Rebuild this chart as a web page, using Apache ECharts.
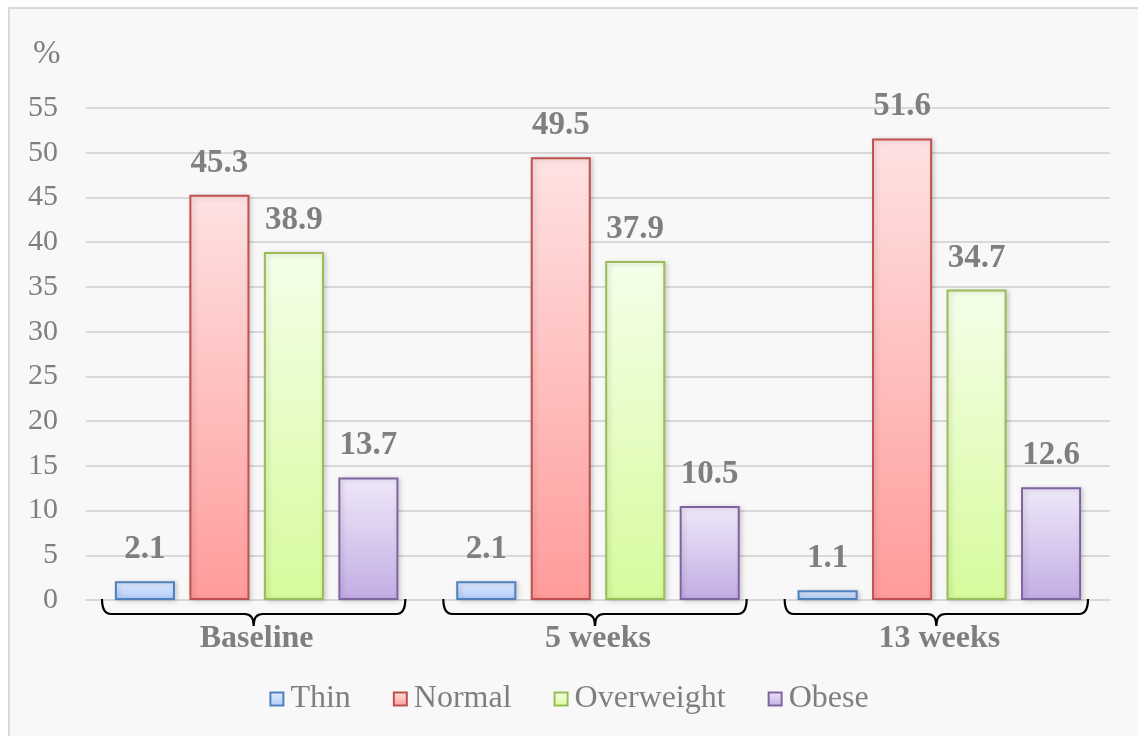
<!DOCTYPE html>
<html>
<head>
<meta charset="utf-8">
<script src="https://cdn.jsdelivr.net/npm/echarts@6/dist/echarts.min.js"></script>
<style>
  html, body { margin: 0; padding: 0; background: #ffffff; overflow: hidden; }
  #frame { position: absolute; left: 8px; top: 7px; width: 1140px; height: 740px;
           border-left: 2px solid #d9d9d9; border-top: 2px solid #d9d9d9; background: #f8f8f8; }
  #chart { position: absolute; left: 0; top: 0; width: 1138px; height: 736px; }
</style>
</head>
<body>
<div id="frame"></div>
<div id="chart"></div>
<script>
// Weight status distribution at each time point (%)
const categories = ['Baseline', '5 weeks', '13 weeks'];
const thin = [2.1, 2.1, 1.1];
const normal = [45.3, 49.5, 51.6];
const overweight = [38.9, 37.9, 34.7];
const obese = [13.7, 10.5, 12.6];
const yTicks = { min: 0, max: 55, interval: 5 };

const FONT = '"Liberation Serif", "Times New Roman", serif';
const GRAY = '#7f7f7f';

function grad(top, bottom) {
  return new echarts.graphic.LinearGradient(0, 0, 0, 1, [
    { offset: 0, color: top },
    { offset: 1, color: bottom }
  ]);
}

function barSeries(name, data, top, bottom, border) {
  return {
    name: name,
    type: 'bar',
    data: data,
    barWidth: '17.6%',
    barGap: '24%',
    itemStyle: {
      color: grad(top, bottom),
      borderColor: border,
      borderWidth: 2,
      shadowColor: 'rgba(0,0,0,0.18)',
      shadowBlur: 5,
      shadowOffsetX: 2,
      shadowOffsetY: 1
    },
    label: {
      show: true,
      position: 'top',
      distance: 15,
      fontFamily: FONT,
      fontWeight: 'bold',
      fontSize: 33,
      color: GRAY,
      formatter: p => p.value.toFixed(1)
    },
    emphasis: { disabled: true }
  };
}

// Curly brace drawn under each category band
function braceItem(params, api) {
  const idx = api.value(0);
  const c = api.coord([idx, 0]);
  const band = api.size([1, 0])[0];
  const cx = c[0] - 3;
  const half = band / 2 - 19;
  const x0 = cx - half, x1 = cx + half;
  const y0 = c[1] - 1, ym = c[1] + 14, yt = c[1] + 26;
  const r = 9;
  const d = [
    'M', x0, y0,
    'Q', x0, ym, x0 + r, ym,
    'L', cx - r, ym,
    'Q', cx, ym, cx, yt,
    'Q', cx, ym, cx + r, ym,
    'L', x1 - r, ym,
    'Q', x1, ym, x1, y0
  ].join(' ');
  return {
    type: 'path',
    shape: { pathData: d },
    style: { fill: null, stroke: '#000', lineWidth: 2.2 }
  };
}

const chart = echarts.init(document.getElementById('chart'), null, { renderer: 'canvas' });
chart.setOption({
  backgroundColor: 'transparent',
  animation: false,
  title: {
    text: '%',
    left: 28,
    top: 33,
    textStyle: { fontFamily: FONT, fontWeight: 'normal', fontSize: 33, color: GRAY }
  },
  grid: { left: 86, right: 28, top: 108, bottom: 136, containLabel: false },
  legend: {
    bottom: 16,
    left: 'center',
    icon: 'rect',
    itemWidth: 13,
    itemHeight: 13,
    itemGap: 42,
    textStyle: { fontFamily: FONT, fontSize: 32, color: GRAY, padding: [0, 0, 0, 2] },
    data: ['Thin', 'Normal', 'Overweight', 'Obese']
  },
  xAxis: {
    type: 'category',
    data: categories,
    axisLine: { lineStyle: { color: '#d9d9d9', width: 2 } },
    axisTick: { show: false },
    axisLabel: {
      margin: 23,
      fontFamily: FONT,
      fontWeight: 'bold',
      fontSize: 32,
      color: GRAY
    }
  },
  yAxis: {
    type: 'value',
    min: yTicks.min,
    max: yTicks.max,
    interval: yTicks.interval,
    axisLine: { show: false },
    axisTick: { show: false },
    splitLine: { lineStyle: { color: '#d9d9d9', width: 2 } },
    axisLabel: {
      margin: 28,
      fontFamily: FONT,
      fontSize: 30,
      color: GRAY
    }
  },
  series: [
    barSeries('Thin', thin, '#e2ecfe', '#b1cbfa', '#4f81bd'),
    barSeries('Normal', normal, '#ffe2e2', '#ff9b9b', '#c0504d'),
    barSeries('Overweight', overweight, '#f5ffea', '#d6fb9c', '#9bbb59'),
    barSeries('Obese', obese, '#efe8f9', '#c3ade4', '#8064a2'),
    {
      type: 'custom',
      renderItem: braceItem,
      data: categories.map((c, i) => [i]),
      encode: { x: 0 },
      clip: false,
      silent: true,
      z: 5
    }
  ]
});
</script>
</body>
</html>
